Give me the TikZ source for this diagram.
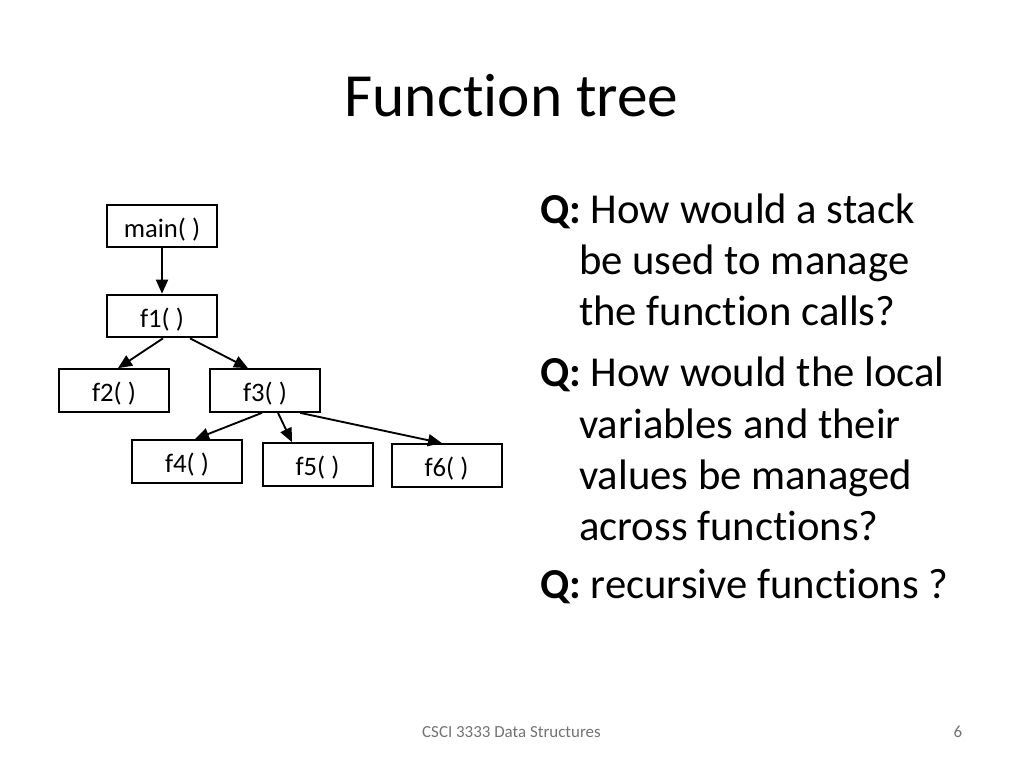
\documentclass[tikz,border=0pt]{standalone}
\usepackage{fontspec}
\setmainfont{Carlito}[Ligatures=NoCommon]
\usetikzlibrary{arrows.meta,calc}
\begin{document}
\begin{tikzpicture}[x=0.75pt,y=-0.75pt,
  fbox/.style={draw=black,line width=1.5pt,minimum width=82.5pt,minimum height=32pt,inner sep=0pt,text height=16.6pt,text depth=0pt,font=\fontsize{20}{22}\selectfont},
  arr/.style={line width=1.4pt,-{Triangle[length=10.5pt,width=9pt]}},
  qline/.style={anchor=base west,inner sep=0pt,font=\fontsize{32}{38}\selectfont},
  foot/.style={inner sep=0pt,text=black!55,font=\fontsize{12.7}{14}\selectfont}]
\useasboundingbox[fill=white] (0,0) rectangle (1024,768);
% title
\node[anchor=base,inner sep=0pt,font=\fontsize{46}{52}\selectfont] (title) at (511.5,116) {Function tree};
% tree
\node[fbox] (main) at (162,226) {main( )};
\node[fbox] (f1) at (162,316) {f1( )};
\node[fbox] (f2) at (114,390.5) {f2( )};
\node[fbox] (f3) at (265,390.5) {f3( )};
\node[fbox] (f4) at (187,461.5) {f4( )};
\node[fbox] (f5) at (317.5,464.5) {f5( )};
\node[fbox] (f6) at (446.5,465.5) {f6( )};
\draw[arr] (main.south) -- (f1.north);
\draw[arr] ($(f1.south)+(1,0)$) -- ($(f2.north)+(4,0)$);
\draw[arr] ($(f1.south)+(28,0)$) -- ($(f3.north)+(-17,0)$);
\draw[arr] ($(f3.south)+(-3,0)$) -- ($(f4.north)+(8,0)$);
\draw[arr] ($(f3.south)+(13,0)$) -- ($(f5.north)+(-25.5,0)$);
\draw[arr] ($(f3.south)+(35,0)$) -- ($(f6.north)+(-4.5,0)$);
% questions
\node[qline] (q1a) at (540,223) {\textbf{Q:} How would a stack};
\node[qline] (q1b) at (579,274.3) {be used to manage};
\node[qline] (q1c) at (579,325.7) {the function calls?};
\node[qline] (q2a) at (540,386.7) {\textbf{Q:} How would the local};
\node[qline] (q2b) at (579,438.3) {variables and their};
\node[qline] (q2c) at (579,489.3) {values be managed};
\node[qline] (q2d) at (579,540) {across functions?};
\node[qline] (q3a) at (540,598.3) {\textbf{Q:} recursive functions ?};
% footer
\node[foot] (course) at (511.5,732) {CSCI 3333 Data Structures};
\node[foot] (page) at (958,732) {6};
\end{tikzpicture}
\end{document}
